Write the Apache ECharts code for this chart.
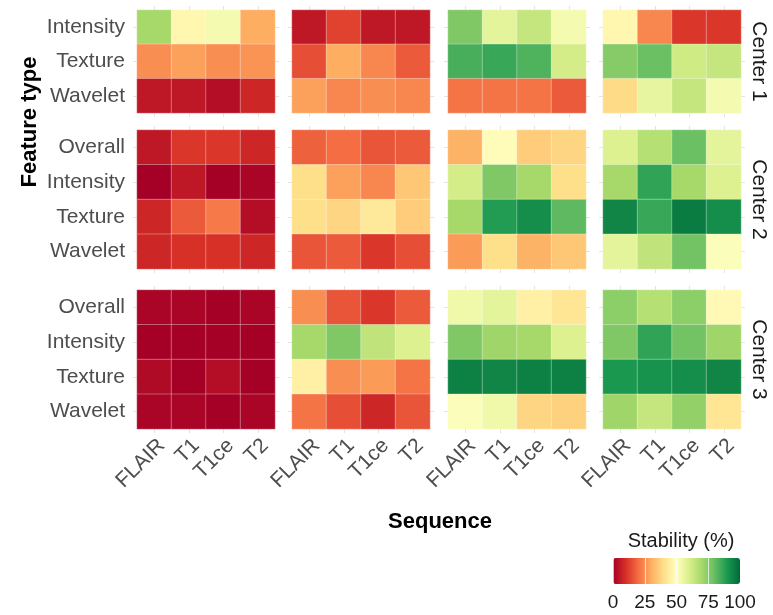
<!DOCTYPE html>
<html>
<head>
<meta charset="utf-8">
<script src="https://cdn.jsdelivr.net/npm/echarts@6/dist/echarts.min.js"></script>
<style>
html,body{margin:0;padding:0;background:#fff;}
#chart{width:773px;height:615px;}
</style>
</head>
<body>
<div id="chart"></div>
<script>
// ---------- data ----------
const sequences = ['FLAIR', 'T1', 'T1ce', 'T2'];
const centers = ['Center 1', 'Center 2', 'Center 3'];
const featuresCenter1 = ['Intensity', 'Texture', 'Wavelet'];
const featuresCenter23 = ['Overall', 'Intensity', 'Texture', 'Wavelet'];
const legendTicks = [0, 25, 50, 75, 100];

// Stability (%) values: rows = feature types, columns = sequences (FLAIR, T1, T1ce, T2)
const center1_panel1 = [[70, 47, 53, 30], [25, 28, 25, 26], [5, 5, 3, 8]];
const center1_panel2 = [[5, 13, 5, 5], [15, 30, 24, 17], [28, 24, 25, 24]];
const center1_panel3 = [[76, 57, 64, 53], [84, 86, 83, 61], [21, 21, 21, 17]];
const center1_panel4 = [[47, 24, 11, 11], [75, 79, 62, 64], [39, 56, 64, 53]];

const center2_panel1 = [[5, 11, 11, 8], [0, 5, 0, 1], [8, 17, 22, 3], [8, 10, 10, 8]];
const center2_panel2 = [[18, 20, 16, 17], [40, 28, 24, 35], [40, 38, 43, 36], [16, 17, 11, 15]];
const center2_panel3 = [[31, 49, 36, 38], [61, 76, 70, 40], [70, 89, 92, 81], [27, 40, 31, 35]];
const center2_panel4 = [[59, 67, 79, 57], [70, 87, 70, 59], [94, 86, 96, 92], [57, 65, 78, 51]];

const center3_panel1 = [[1, 1, 0, 1], [0, 0, 0, 0], [2, 0, 3, 0], [1, 1, 0, 1]];
const center3_panel2 = [[25, 16, 11, 17], [70, 76, 65, 59], [45, 25, 27, 21], [21, 15, 8, 16]];
const center3_panel3 = [[54, 57, 45, 42], [76, 71, 70, 59], [95, 94, 95, 95], [51, 54, 38, 37]];
const center3_panel4 = [[74, 67, 74, 48], [76, 87, 78, 71], [90, 91, 92, 94], [71, 64, 73, 42]];

const panels = [
  [center1_panel1, center1_panel2, center1_panel3, center1_panel4],
  [center2_panel1, center2_panel2, center2_panel3, center2_panel4],
  [center3_panel1, center3_panel2, center3_panel3, center3_panel4]
];
const rowFeatures = [featuresCenter1, featuresCenter23, featuresCenter23];

// ---------- layout ----------
const FONT = 'Liberation Sans, Arial, Helvetica, sans-serif';
const colLefts = [137, 292, 448, 603];
const colWidth = 138;
const rowTops = [10, 130, 290];
const rowHeights = [103, 139, 139];
const tickColor = '#e3e3e3';
const RdYlGn = ['#a50026', '#d73027', '#f46d43', '#fdae61', '#fee08b', '#ffffbf',
                '#d9ef8b', '#a6d96a', '#66bd63', '#1a9850', '#006837'];

const grids = [], xAxes = [], yAxes = [], series = [];
for (let r = 0; r < 3; r++) {
  for (let c = 0; c < 4; c++) {
    const gi = grids.length;
    grids.push({left: colLefts[c], top: rowTops[r], width: colWidth, height: rowHeights[r], containLabel: false});
    const feats = rowFeatures[r];
    ['bottom', 'top'].forEach(function (pos) {
      xAxes.push({
        type: 'category', gridIndex: gi, data: sequences, position: pos,
        axisLine: {show: false},
        axisTick: {show: true, alignWithLabel: true, interval: 0, length: 4, lineStyle: {color: tickColor}},
        axisLabel: {show: pos === 'bottom' && r === 2, interval: 0, hideOverlap: false, rotate: 45,
                    align: 'right', verticalAlign: 'top',
                    fontSize: 21, color: '#4d4d4d', fontFamily: FONT, margin: 6},
        splitLine: {show: false}
      });
    });
    ['left', 'right'].forEach(function (pos) {
      yAxes.push({
        type: 'category', gridIndex: gi, data: feats, inverse: true, position: pos,
        axisLine: {show: false},
        axisTick: {show: true, alignWithLabel: true, interval: 0, length: 4, lineStyle: {color: tickColor}},
        axisLabel: {show: pos === 'left' && c === 0, interval: 0, fontSize: 21, color: '#4d4d4d',
                    fontFamily: FONT, margin: 12},
        splitLine: {show: false}
      });
    });
    const vals = panels[r][c];
    const data = [];
    for (let i = 0; i < feats.length; i++) {
      for (let j = 0; j < sequences.length; j++) {
        data.push([j, i, vals[i][j]]);
      }
    }
    series.push({
      type: 'heatmap', xAxisIndex: 2 * gi, yAxisIndex: 2 * gi, data: data,
      itemStyle: {borderColor: 'rgba(255,255,255,0.45)', borderWidth: 0.7},
      emphasis: {disabled: true}, silent: true
    });
  }
}

// legend label axis (colour bar scale)
const barLeft = 613, barTop = 558, barLen = 127, barThick = 26;
const lgi = grids.length;
grids.push({left: barLeft, top: barTop, width: barLen, height: barThick});
xAxes.push({
  type: 'value', gridIndex: lgi, min: legendTicks[0], max: legendTicks[legendTicks.length - 1],
  interval: 25, z: 10, position: 'bottom',
  axisLine: {show: false}, axisTick: {show: false},
  axisLabel: {fontSize: 19, color: '#1a1a1a', fontFamily: FONT, margin: 9,
              formatter: function (v) { return legendTicks.indexOf(v) >= 0 ? String(v) : ''; }},
  splitLine: {show: true, lineStyle: {color: 'rgba(255,255,255,0.7)', width: 1}}
});
yAxes.push({type: 'value', gridIndex: lgi, min: 0, max: 1, show: false});
series.push({type: 'scatter', xAxisIndex: xAxes.length - 1, yAxisIndex: yAxes.length - 1, data: [], silent: true});

const graphics = [];
centers.forEach(function (name, r) {
  graphics.push({
    type: 'text', x: 759, y: rowTops[r] + rowHeights[r] / 2, rotation: -Math.PI / 2,
    style: {text: name, fill: '#1a1a1a', font: '21px ' + FONT, textAlign: 'center', textVerticalAlign: 'middle'}
  });
});
graphics.push({
  type: 'text', x: 30, y: 122, rotation: Math.PI / 2,
  style: {text: 'Feature type', fill: '#000', font: 'bold 22px ' + FONT, textAlign: 'center', textVerticalAlign: 'middle'}
});
graphics.push({
  type: 'text', x: 440, y: 522,
  style: {text: 'Sequence', fill: '#000', font: 'bold 22px ' + FONT, textAlign: 'center', textVerticalAlign: 'middle'}
});
graphics.push({
  type: 'text', x: 681, y: 541,
  style: {text: 'Stability (%)', fill: '#1a1a1a', font: '20px ' + FONT, textAlign: 'center', textVerticalAlign: 'middle'}
});

const chart = echarts.init(document.getElementById('chart'), null, {renderer: 'canvas'});
chart.setOption({
  backgroundColor: '#ffffff',
  animation: false,
  grid: grids,
  xAxis: xAxes,
  yAxis: yAxes,
  visualMap: {
    type: 'continuous', min: 0, max: 100, calculable: false, orient: 'horizontal',
    left: barLeft, top: barTop, itemWidth: barThick, itemHeight: barLen, padding: 0,
    text: null, showLabel: false, hoverLink: false,
    seriesIndex: series.slice(0, 12).map(function (s, i) { return i; }),
    inRange: {color: RdYlGn}
  },
  graphic: graphics,
  series: series
});
</script>
</body>
</html>
